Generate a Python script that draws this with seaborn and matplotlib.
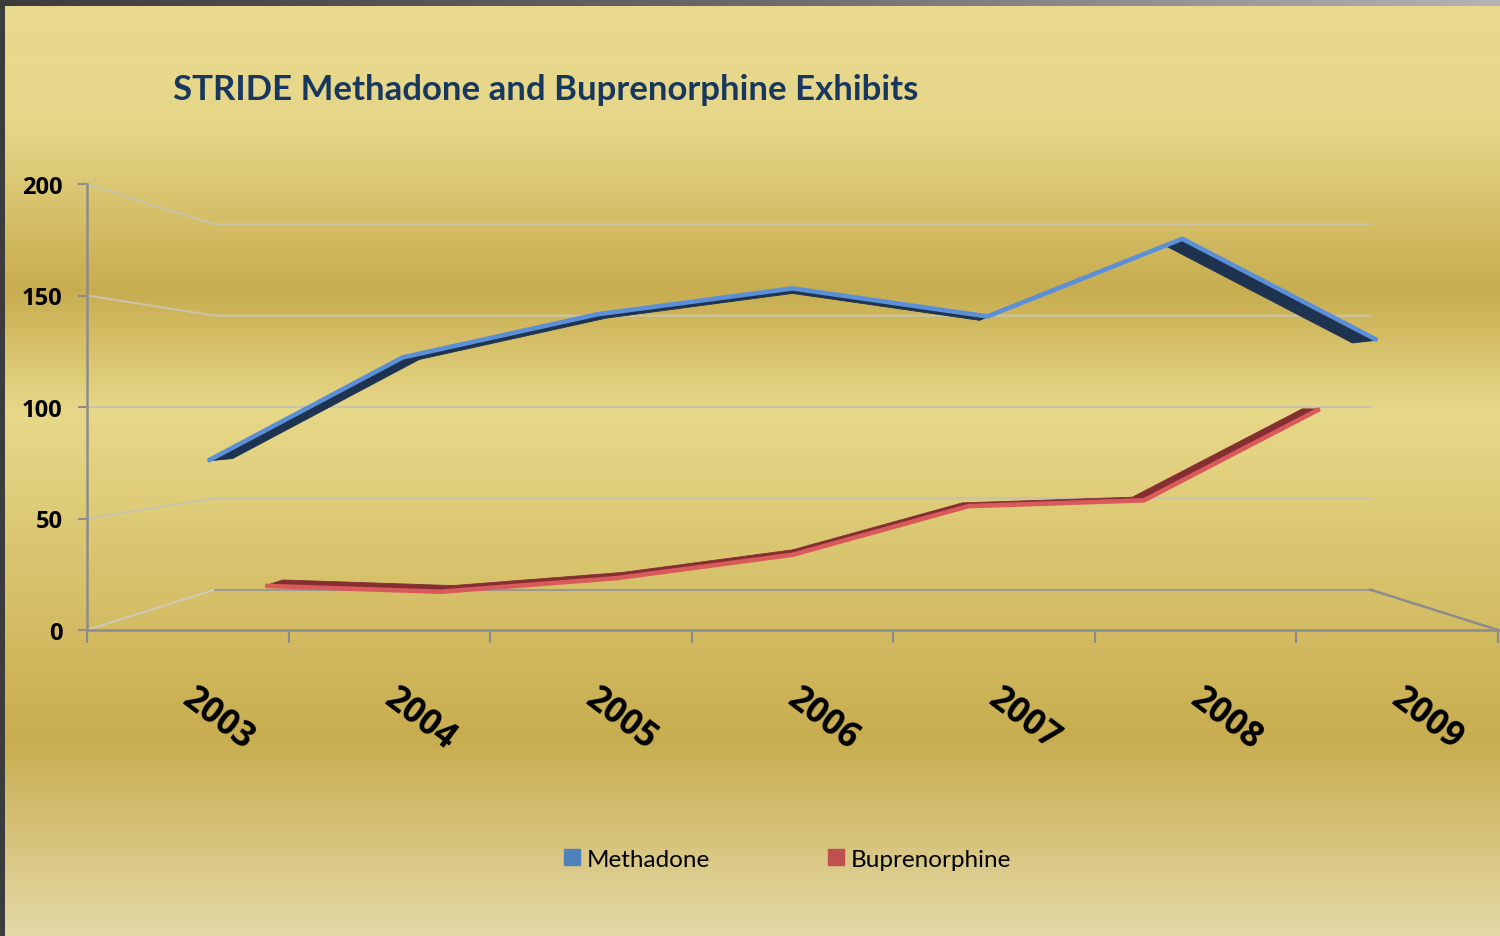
import numpy as np
import pandas as pd
import matplotlib
matplotlib.use("Agg")
import matplotlib.pyplot as plt
from matplotlib.colors import LinearSegmentedColormap
from matplotlib.lines import Line2D
import seaborn as sns

# data
years = ["2003", "2004", "2005", "2006", "2007", "2008", "2009"]
methadone = [75, 123, 143, 155, 142, 178, 131]
buprenorphine = [8, 5, 12, 24, 49, 52, 99]
y_ticks = [0, 50, 100, 150, 200]
series_names = ["Methadone", "Buprenorphine"]
title = "STRIDE Methadone and Buprenorphine Exhibits"

# fake 3D: deeper planes shrink toward (3, 100) of the front plane
VX, VY = 3.0, 100.0
WALL = 0.8186
DEPTH = {"Methadone": (0.967, 0.926), "Buprenorphine": (0.872, 0.843)}
LIGHT = {"Methadone": "#5b8fd8", "Buprenorphine": "#d95a5a"}
DARK = {"Methadone": "#1e3350", "Buprenorphine": "#842e32"}
KEY = {"Methadone": "#4f81bd", "Buprenorphine": "#c0504d"}
NUM_FONT = ["Open Sans", "DejaVu Sans"]


def proj(x, v, s):
    x = np.asarray(x, float)
    v = np.asarray(v, float)
    s = np.asarray(s, float)
    return VX + s * (x - VX), VY + s * (v - VY)


sns.set_theme(style="white")
plt.rcParams["font.family"] = ["Lato", "DejaVu Sans"]

W, H = 1500, 937
fig = plt.figure(figsize=(15, 9.37), dpi=100)

# gold gradient background + dark frame
bg = fig.add_axes([0, 0, 1, 1], zorder=-10)
stops = [(0.0, "#e9da90"), (0.13, "#e6d688"), (0.31, "#c8ad50"), (0.44, "#e7d889"),
         (0.79, "#c8ad50"), (1.0, "#e4d9a6")]
gold = LinearSegmentedColormap.from_list("gold", stops)
bg.imshow(np.linspace(0, 1, 512).reshape(-1, 1), cmap=gold, aspect="auto",
          extent=(0, 1, 0, 1), origin="upper")
grey = LinearSegmentedColormap.from_list("frame", ["#3c3c3c", "#6a6a6a", "#b4b4b4"])
bg.imshow(np.linspace(0, 1, 512).reshape(1, -1), cmap=grey, aspect="auto",
          extent=(0, 1, 1 - 7 / H, 1), origin="upper")
bg.add_patch(plt.Rectangle((0, 0), 5 / W, 1, color="#3c3c3c", lw=0))
bg.set_xlim(0, 1)
bg.set_ylim(0, 1)
bg.axis("off")

ax = fig.add_axes([87 / W, (H - 631) / H, 1411 / W, 446 / H])
ax.patch.set_alpha(0)

# side wall + back wall gridlines
for v in y_ticks:
    xs, ys = proj([-0.5, -0.5, 6.5], [v, v, v], [1, WALL, WALL])
    if v == 0:
        ax.plot(xs[:2], ys[:2], color="#cfcab6", lw=1.5, clip_on=False, zorder=1)
        ax.plot(xs[1:], ys[1:], color="#9c9a90", lw=1.5, clip_on=False, zorder=1)
    else:
        ax.plot(xs, ys, color="#c9c3a8", lw=1.5, clip_on=False, zorder=1)
xs, ys = proj([6.5, 6.5], [0, 0], [WALL, 1])
ax.plot(xs, ys, color="#8c8c8c", lw=1.8, clip_on=False, zorder=1)

# ribbons, back series first
x = np.arange(len(years))
for z, (name, vals) in enumerate([("Buprenorphine", buprenorphine), ("Methadone", methadone)]):
    sf, sb = DEPTH[name]
    xf, yf = proj(x, vals, sf)
    xb, yb = proj(x, vals, sb)
    for i in range(len(x) - 1):
        ax.fill([xf[i], xf[i + 1], xb[i + 1], xb[i]], [yf[i], yf[i + 1], yb[i + 1], yb[i]],
                color=DARK[name], lw=0.6, ec=DARK[name], zorder=3 + 2 * z)
    df = pd.DataFrame({"x": xf, "y": yf})
    sns.lineplot(data=df, x="x", y="y", ax=ax, color=LIGHT[name], lw=3.3, sort=False,
                 estimator=None, zorder=4 + 2 * z, solid_joinstyle="round",
                 solid_capstyle="butt")

ax.set_xlim(-0.5, 6.5)
ax.set_ylim(0, 200)
ax.set_xlabel("")
ax.set_ylabel("")
for side in ["top", "right"]:
    ax.spines[side].set_visible(False)
for side in ["left", "bottom"]:
    ax.spines[side].set_color("#8c8c8c")
    ax.spines[side].set_linewidth(1.8)

ax.set_yticks(y_ticks)
ax.set_yticklabels([str(t) for t in y_ticks], fontsize=17, fontweight="bold",
                   color="black", family=NUM_FONT)
ax.tick_params(axis="y", direction="out", length=6.5, width=1.5, color="#8c8c8c", pad=11, left=True)
ax.set_xticks(np.arange(-0.5, 7, 1))
ax.set_xticklabels([])
ax.tick_params(axis="x", direction="out", length=9, width=1.5, color="#8c8c8c", bottom=True)

for i, yr in enumerate(years):
    ax.annotate(yr, xy=(i, 0), xytext=(30, -89), textcoords="offset pixels",
                rotation=-37, ha="center", va="center", fontsize=25,
                fontweight="bold", color="black", family=NUM_FONT,
                annotation_clip=False)

fig.text(173 / W, 1 - 90 / H, title, ha="left", va="center", fontsize=25,
         fontweight="bold", color="#17375e")

handles = [Line2D([], [], marker="s", ls="none", markersize=11, color=KEY[n]) for n in series_names]
fig.legend(handles, series_names, loc="center", bbox_to_anchor=(787 / W, 1 - 860 / H),
           ncol=2, frameon=False, fontsize=17.5, columnspacing=4.8, handletextpad=0.2,
           handlelength=0.8, labelcolor="black")

fig.savefig("out.png", dpi=100)
